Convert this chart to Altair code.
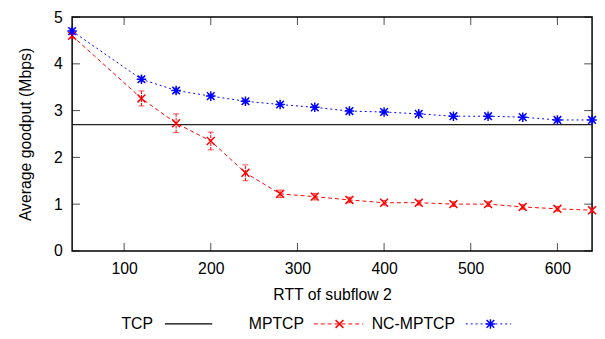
import altair as alt
import pandas as pd

# ---- data ----
rtt = [40, 120, 160, 200, 240, 280, 320, 360, 400, 440, 480, 520, 560, 600, 640]
mptcp = [4.60, 3.26, 2.73, 2.35, 1.67, 1.22, 1.16, 1.09, 1.03, 1.03, 1.00, 1.00, 0.94, 0.90, 0.87]
mptcp_err = [0.05, 0.16, 0.20, 0.19, 0.17, 0.08, 0.07, 0.06, 0.05, 0.05, 0.05, 0.05, 0.05, 0.05, 0.05]
nc_mptcp = [4.70, 3.67, 3.43, 3.31, 3.20, 3.13, 3.07, 2.99, 2.97, 2.93, 2.88, 2.88, 2.86, 2.80, 2.80]
nc_err = [0.05, 0.05, 0.05, 0.04, 0.04, 0.04, 0.04, 0.04, 0.04, 0.04, 0.04, 0.04, 0.04, 0.04, 0.04]
tcp_value = 2.7
x_ticks = [100, 200, 300, 400, 500, 600]
y_ticks = [0, 1, 2, 3, 4, 5]
series_names = ["TCP", "MPTCP", "NC-MPTCP"]

W, H = 527, 237
FONT = "Liberation Sans"
RED = "#ff0000"
BLUE = "#0000ff"
X_SHAPE = "M-1,-1L1,1M1,-1L-1,1"
STAR_SHAPE = "M-1,-1L1,1M1,-1L-1,1M-1.25,0L1.25,0M0,-1.25L0,1.25"

df_m = pd.DataFrame({"rtt": rtt, "v": mptcp,
                     "lo": [a - b for a, b in zip(mptcp, mptcp_err)],
                     "hi": [a + b for a, b in zip(mptcp, mptcp_err)]})
df_n = pd.DataFrame({"rtt": rtt, "v": nc_mptcp,
                     "lo": [a - b for a, b in zip(nc_mptcp, nc_err)],
                     "hi": [a + b for a, b in zip(nc_mptcp, nc_err)]})
df_tcp = pd.DataFrame({"x0": [rtt[0]], "x1": [rtt[-1]], "v": [tcp_value]})
df_xt = pd.DataFrame({"t": x_ticks})
df_yt = pd.DataFrame({"t": y_ticks})
df_one = pd.DataFrame({"k": [0]})

xscale = alt.Scale(domain=[40, 640], nice=False, zero=False)
yscale = alt.Scale(domain=[0, 5], nice=False)
xaxis = alt.Axis(values=x_ticks, ticks=False, domain=False, grid=False,
                 labelFontSize=16, labelColor="black", labelPadding=10,
                 title="RTT of subflow 2", titleFontSize=16, titleFontWeight="normal",
                 titleColor="black", titlePadding=10)
yaxis = alt.Axis(values=y_ticks, ticks=False, domain=False, grid=False,
                 labelFontSize=16, labelColor="black", labelPadding=10,
                 title="Average goodput (Mbps)", titleFontSize=16, titleFontWeight="normal",
                 titleColor="black", titlePadding=20)

X = alt.X("rtt:Q", scale=xscale, axis=xaxis)
Y = alt.Y("v:Q", scale=yscale, axis=yaxis)

tcp_line = alt.Chart(df_tcp).mark_rule(color="#222222", strokeWidth=1.2).encode(
    x=alt.X("x0:Q", scale=xscale, axis=xaxis), x2="x1:Q", y=Y)

def series(df, color, dash, shape, size):
    line = alt.Chart(df).mark_line(color=color, strokeWidth=1, strokeDash=dash).encode(x=X, y=Y)
    err = alt.Chart(df).mark_rule(color=color, strokeWidth=1, strokeDash=[3, 1]).encode(
        x=X, y=alt.Y("lo:Q", scale=yscale), y2="hi:Q")
    cap_lo = alt.Chart(df).mark_tick(color=color, orient="horizontal", size=6, thickness=1).encode(
        x=X, y=alt.Y("lo:Q", scale=yscale))
    cap_hi = alt.Chart(df).mark_tick(color=color, orient="horizontal", size=6, thickness=1).encode(
        x=X, y=alt.Y("hi:Q", scale=yscale))
    pts = alt.Chart(df).mark_point(shape=shape, size=size, filled=False, color=color,
                                   strokeWidth=1.5, opacity=1).encode(x=X, y=Y)
    return [line, err, cap_lo, cap_hi, pts]

red_layers = series(df_m, RED, [4, 3], X_SHAPE, 64)
blue_layers = series(df_n, BLUE, [2, 3], STAR_SHAPE, 60)

# inward ticks, mirrored (gnuplot style)
xt_bot = alt.Chart(df_xt).mark_tick(color="black", orient="vertical", size=8, thickness=1).encode(
    x=alt.X("t:Q", scale=xscale), y=alt.value(H - 4))
xt_top = alt.Chart(df_xt).mark_tick(color="black", orient="vertical", size=8, thickness=1).encode(
    x=alt.X("t:Q", scale=xscale), y=alt.value(4))
yt_l = alt.Chart(df_yt).mark_tick(color="black", orient="horizontal", size=8, thickness=1).encode(
    y=alt.Y("t:Q", scale=yscale), x=alt.value(4))
yt_r = alt.Chart(df_yt).mark_tick(color="black", orient="horizontal", size=8, thickness=1).encode(
    y=alt.Y("t:Q", scale=yscale), x=alt.value(W - 4))

# legend (gnuplot style: label then sample)
LY = 311
def leg_text(txt, xr):
    return alt.Chart(df_one).mark_text(text=txt, align="right", baseline="middle",
                                       fontSize=16, color="black").encode(
        x=alt.value(xr), y=alt.value(LY))

def leg_line(x0, x1, color, dash=None, width=1):
    kw = dict(color=color, strokeWidth=width)
    if dash:
        kw["strokeDash"] = dash
    return alt.Chart(df_one).mark_rule(**kw).encode(
        x=alt.value(x0), x2=alt.value(x1), y=alt.value(LY))

def leg_mark(xm, color, shape, size):
    return alt.Chart(df_one).mark_point(shape=shape, size=size, filled=False, color=color,
                                        strokeWidth=1.5, opacity=1).encode(
        x=alt.value(xm), y=alt.value(LY))

legend = [
    leg_text(series_names[0], 82), leg_line(94, 142, "black", None, 1.2),
    leg_text(series_names[1], 235), leg_line(245, 295, RED, [4, 3]), leg_mark(271, RED, X_SHAPE, 64),
    leg_text(series_names[2], 388), leg_line(399, 445, BLUE, [2, 3]), leg_mark(424, BLUE, STAR_SHAPE, 60),
]

chart = alt.layer(tcp_line, *red_layers, *blue_layers, xt_bot, xt_top, yt_l, yt_r, *legend).properties(
    width=W, height=H,
    autosize=alt.AutoSizeParams(type="none"),
    padding={"left": 65, "top": 7, "right": 5, "bottom": 80},
).configure(font=FONT).configure_view(stroke="black", strokeWidth=1.5)

chart.save("out.html", embed_options={"renderer": "svg", "actions": False})
